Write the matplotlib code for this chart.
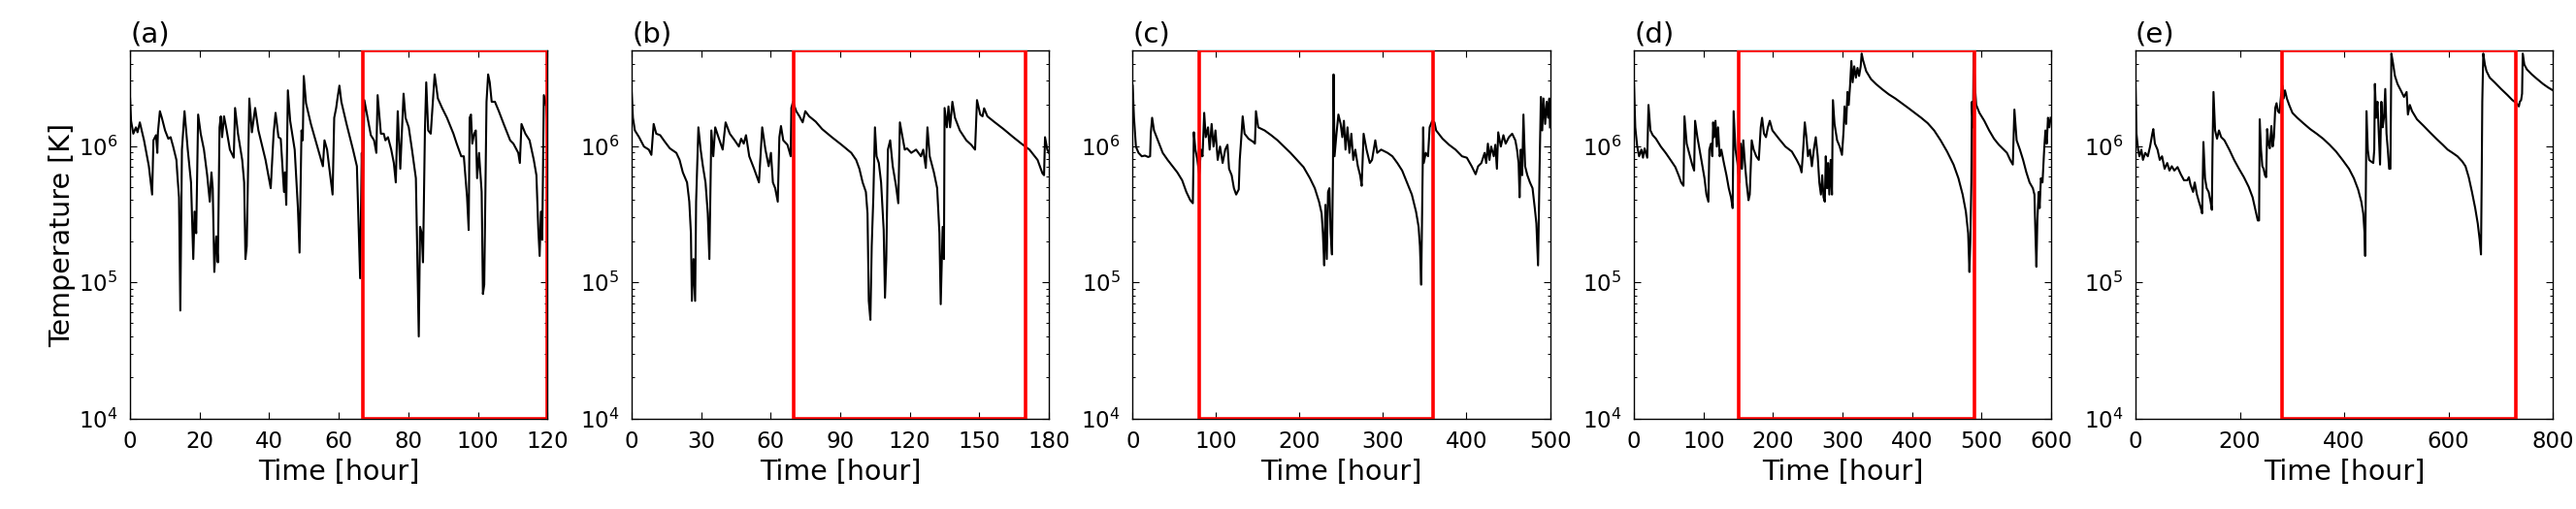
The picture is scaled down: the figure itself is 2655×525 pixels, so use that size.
"""Temperature time series of five runs, with the selected window boxed in red."""
import matplotlib
matplotlib.use("Agg")
import matplotlib.pyplot as plt
from matplotlib.patches import Rectangle
from matplotlib.ticker import LogLocator, NullFormatter

# (a)
t_a = [0.0, 0.28, 0.93, 1.68, 2.14, 2.80, 4.01, 5.40, 6.34, 6.71, 7.45, 7.83, 8.01, 8.57, 9.13, 10.06,
       10.99, 11.65, 12.39, 13.32, 13.60, 14.07, 14.44, 14.91, 15.65, 16.58, 17.52, 18.17, 18.54, 19.01,
       19.57, 20.31, 21.24, 22.17, 22.92, 23.39, 23.76, 24.22, 24.78, 25.25, 25.72, 26.09, 26.46, 27.02,
       27.77, 28.70, 29.81, 30.19, 31.03, 32.24, 32.80, 33.17, 33.54, 34.29, 35.03, 35.96, 36.90, 38.95,
       40.44, 41.27, 41.83, 42.67, 43.32, 44.26, 44.54, 44.91, 45.37, 46.03, 47.33, 48.26, 48.73, 49.29,
       49.66, 49.94, 50.59, 51.99, 53.85, 55.44, 55.90, 56.65, 57.11, 58.23, 58.70, 59.26, 59.63, 60.19,
       60.75, 62.24, 64.10, 65.22, 66.15, 66.62, 66.90, 67.36, 68.29, 69.23, 70.16, 70.81, 71.18, 72.12,
       72.95, 73.42, 74.16, 75.09, 75.84, 76.40, 76.96, 77.70, 78.64, 79.20, 80.13, 81.06, 82.18, 83.01,
       83.39, 83.85, 84.23, 84.78, 85.16, 85.72, 86.46, 87.58, 88.51, 89.72, 91.12, 92.98, 93.92, 95.22,
       95.97, 96.90, 97.36, 97.64, 98.02, 98.39, 98.95, 99.41, 99.79, 100.34, 101.09, 101.46, 101.84,
       102.49, 102.96, 103.42, 103.98, 104.91, 106.03, 107.43, 109.29, 110.22, 111.62, 112.08, 112.55,
       113.67, 114.88, 116.09, 116.84, 117.39, 117.77, 118.14, 118.51, 118.98, 119.63, 120.0]
T_a = [2.23e6, 1.53e6, 1.23e6, 1.37e6, 1.26e6, 1.49e6, 1.10e6, 7.1e5, 4.4e5, 1.10e6, 1.20e6, 8.9e5,
       1.26e6, 1.80e6, 1.61e6, 1.30e6, 1.13e6, 1.16e6, 9.9e5, 7.9e5, 6.1e5, 4.2e5, 6.2e4, 9.4e5, 1.80e6,
       9.4e5, 5.4e5, 1.48e5, 3.3e5, 2.29e5, 1.70e6, 1.23e6, 9.4e5, 6.1e5, 3.9e5, 6.4e5, 4.9e5, 1.19e5,
       2.17e5, 1.40e5, 1.37e6, 1.65e6, 1.16e6, 1.65e6, 1.30e6, 9.4e5, 8.2e5, 1.90e6, 1.23e6, 7.9e5, 5.4e5,
       1.48e5, 1.84e5, 2.23e6, 1.26e6, 1.90e6, 1.30e6, 7.9e5, 4.9e5, 1.23e6, 1.75e6, 1.16e6, 1.13e6,
       4.6e5, 6.4e5, 3.7e5, 2.56e6, 1.53e6, 9.4e5, 3.5e5, 1.65e5, 1.30e6, 1.10e6, 3.26e6, 2.06e6, 1.45e6,
       9.9e5, 7.1e5, 1.10e6, 9.4e5, 7.5e5, 4.4e5, 1.61e6, 1.90e6, 2.23e6, 2.77e6, 2.11e6, 1.45e6, 9.4e5,
       7.1e5, 1.07e5, 8.9e5, 4.2e5, 2.17e6, 1.61e6, 1.20e6, 1.10e6, 8.9e5, 2.36e6, 1.23e6, 1.23e6, 1.10e6,
       1.16e6, 9.4e5, 7.5e5, 5.4e5, 1.80e6, 6.8e5, 2.42e6, 1.61e6, 1.37e6, 9.4e5, 5.8e5, 4.0e4, 2.55e5,
       2.29e5, 1.40e5, 1.30e6, 2.93e6, 1.30e6, 1.23e6, 3.35e6, 2.23e6, 1.90e6, 1.61e6, 1.23e6, 1.04e6,
       8.4e5, 8.4e5, 4.2e5, 2.42e5, 1.61e6, 1.70e6, 1.04e6, 1.23e6, 1.30e6, 5.8e5, 8.9e5, 4.6e5, 8.2e4,
       9.6e4, 2.11e6, 3.35e6, 2.93e6, 2.11e6, 2.11e6, 1.80e6, 1.45e6, 1.10e6, 1.04e6, 8.9e5, 7.5e5,
       1.45e6, 1.23e6, 1.10e6, 7.9e5, 6.1e5, 2.42e5, 1.56e5, 3.3e5, 2.05e5, 2.36e6, 2.00e6, 1.53e6]

# (b)
t_b = [0.0, 0.56, 1.40, 3.21, 5.31, 7.41, 8.52, 9.50, 10.62, 12.30, 14.39, 16.49, 19.28, 20.68, 22.08,
       23.90, 24.87, 25.57, 25.99, 26.69, 27.39, 27.81, 28.79, 29.77, 30.74, 31.86, 32.84, 33.54, 34.38,
       35.22, 36.05, 37.45, 39.27, 40.53, 42.34, 44.44, 46.26, 47.23, 48.35, 49.33, 50.73, 52.82, 54.92,
       56.32, 57.71, 59.11, 60.09, 60.93, 61.91, 63.03, 63.72, 64.42, 65.40, 67.22, 68.61, 68.89, 69.59,
       70.99, 72.39, 73.78, 74.90, 76.58, 79.37, 82.17, 86.36, 90.55, 94.75, 96.84, 98.24, 99.64, 101.04,
       101.74, 102.29, 102.99, 103.55, 104.25, 104.95, 105.65, 106.62, 107.60, 108.72, 109.28, 109.84,
       110.54, 111.52, 112.63, 114.03, 115.01, 115.71, 116.83, 117.81, 118.78, 120.60, 122.70, 124.79,
       125.77, 126.89, 127.59, 128.57, 130.38, 131.78, 132.76, 133.32, 134.15, 134.71, 134.99, 135.97,
       136.67, 137.37, 138.35, 139.47, 141.56, 144.36, 146.46, 148.13, 148.97, 150.37, 151.35, 152.04,
       153.44, 156.24, 160.43, 164.62, 168.11, 171.60, 175.10, 177.19, 177.89, 178.31, 179.29, 180.0]
T_b = [2.49e6, 1.61e6, 1.30e6, 1.16e6, 9.9e5, 9.4e5, 8.6e5, 1.45e6, 1.23e6, 1.20e6, 1.07e6, 9.6e5,
       8.9e5, 7.9e5, 6.4e5, 5.4e5, 3.9e5, 2.29e5, 7.3e4, 1.48e5, 7.3e4, 3.9e5, 1.37e6, 9.4e5, 7.1e5,
       5.4e5, 3.2e5, 1.48e5, 1.30e6, 8.4e5, 1.37e6, 1.16e6, 9.4e5, 1.49e6, 1.23e6, 1.10e6, 9.9e5, 1.13e6,
       1.04e6, 1.20e6, 8.4e5, 6.8e5, 5.4e5, 1.37e6, 9.4e5, 7.1e5, 8.9e5, 5.4e5, 4.9e5, 3.9e5, 1.16e6,
       1.40e6, 1.10e6, 1.02e6, 8.4e5, 1.90e6, 2.11e6, 1.80e6, 1.65e6, 1.49e6, 1.80e6, 1.65e6, 1.51e6,
       1.33e6, 1.16e6, 1.02e6, 8.9e5, 7.9e5, 6.8e5, 5.4e5, 4.6e5, 3.2e5, 7.3e4, 5.3e4, 1.84e5, 4.2e5,
       1.37e6, 8.4e5, 7.5e5, 5.4e5, 2.42e5, 7.7e4, 1.48e5, 9.4e5, 1.10e6, 7.1e5, 5.1e5, 3.8e5, 1.49e6,
       1.16e6, 9.4e5, 9.6e5, 8.9e5, 9.4e5, 8.4e5, 9.4e5, 6.9e5, 1.37e6, 8.4e5, 6.4e5, 4.9e5, 2.29e5,
       6.9e4, 2.55e5, 1.48e5, 1.90e6, 1.37e6, 1.95e6, 1.37e6, 2.11e6, 1.61e6, 1.30e6, 1.10e6, 1.02e6,
       9.4e5, 2.17e6, 1.70e6, 1.65e6, 1.89e6, 1.65e6, 1.51e6, 1.33e6, 1.16e6, 1.04e6, 9.4e5, 7.9e5,
       6.3e5, 6.1e5, 1.16e6, 9.4e5, 8.9e5]

# (c)
t_c = [0.0, 1.6, 3.9, 7.0, 10.9, 14.7, 18.6, 20.9, 21.7, 23.3, 25.6, 30.2, 36.0, 41.9, 47.7, 53.5, 59.3,
       64.3, 69.0, 72.1, 73.3, 75.2, 77.5, 79.8, 81.8, 83.7, 85.7, 87.6, 90.3, 92.2, 94.6, 96.9, 99.2,
       101.9, 104.7, 107.8, 110.9, 113.6, 115.5, 118.6, 121.3, 124.0, 127.1, 128.3, 130.2, 131.8, 134.1,
       138.8, 144.6, 146.5, 147.7, 150.4, 158.1, 165.9, 173.6, 181.4, 189.1, 196.9, 204.7, 212.4, 218.2,
       223.3, 226.4, 227.9, 229.5, 231.0, 232.6, 234.1, 235.7, 237.2, 238.8, 240.0, 240.7, 241.9, 244.2,
       246.5, 249.2, 251.2, 253.1, 255.0, 257.4, 259.7, 262.0, 264.3, 266.7, 269.8, 272.5, 274.4, 276.7,
       280.2, 284.1, 286.8, 290.7, 293.0, 297.7, 305.4, 311.2, 317.1, 322.9, 328.7, 334.5, 339.5, 342.6,
       344.2, 345.7, 346.9, 348.1, 348.8, 351.2, 353.9, 355.8, 358.9, 361.6, 363.6, 371.3, 379.1, 386.8,
       394.6, 400.4, 406.2, 410.9, 413.9, 417.8, 421.7, 423.6, 425.6, 427.5, 429.5, 432.6, 434.5, 436.4,
       438.0, 441.1, 444.2, 446.9, 450.8, 454.7, 458.5, 460.5, 462.4, 463.6, 465.1, 466.7, 468.2, 470.2,
       472.9, 476.0, 479.1, 481.8, 483.7, 485.7, 487.6, 489.1, 490.7, 492.2, 494.2, 496.1, 497.7, 499.2,
       500.0]
T_c = [2.77e6, 1.61e6, 9.9e5, 8.9e5, 8.4e5, 8.5e5, 8.3e5, 8.4e5, 1.23e6, 1.61e6, 1.30e6, 1.10e6, 8.9e5,
       7.9e5, 7.1e5, 6.4e5, 5.6e5, 4.6e5, 4.0e5, 3.8e5, 1.26e6, 9.4e5, 7.9e5, 6.2e5, 9.4e5, 8.4e5, 1.75e6,
       1.16e6, 1.37e6, 9.4e5, 1.45e6, 9.9e5, 1.30e6, 7.9e5, 9.9e5, 7.5e5, 9.4e5, 1.02e6, 6.8e5, 6.1e5,
       4.9e5, 4.4e5, 4.8e5, 7.9e5, 1.16e6, 1.65e6, 1.23e6, 1.13e6, 1.07e6, 1.04e6, 1.80e6, 1.37e6, 1.30e6,
       1.20e6, 1.10e6, 9.9e5, 8.9e5, 7.9e5, 7.0e5, 5.8e5, 4.9e5, 3.9e5, 3.2e5, 2.29e5, 1.33e5, 3.7e5,
       1.48e5, 4.6e5, 4.9e5, 2.29e5, 1.60e5, 7.1e5, 3.35e6, 8.4e5, 1.23e6, 1.70e6, 1.45e6, 1.16e6, 1.53e6,
       9.4e5, 1.37e6, 8.9e5, 1.23e6, 7.9e5, 9.4e5, 7.1e5, 6.1e5, 5.1e5, 1.23e6, 9.4e5, 7.5e5, 7.9e5,
       1.10e6, 8.9e5, 9.4e5, 8.9e5, 8.4e5, 7.5e5, 6.6e5, 5.4e5, 4.4e5, 3.3e5, 2.55e5, 1.84e5, 9.6e4,
       3.9e5, 1.37e6, 7.5e5, 8.9e5, 8.4e5, 1.37e6, 1.53e6, 1.49e6, 1.30e6, 1.13e6, 1.02e6, 9.4e5, 8.4e5,
       8.2e5, 7.1e5, 6.2e5, 7.1e5, 7.5e5, 8.9e5, 7.5e5, 1.04e6, 7.9e5, 9.9e5, 8.4e5, 1.02e6, 6.8e5,
       1.26e6, 9.9e5, 1.20e6, 1.04e6, 1.16e6, 1.23e6, 1.10e6, 9.4e5, 7.5e5, 4.2e5, 9.4e5, 6.1e5, 1.70e6,
       7.1e5, 6.1e5, 5.4e5, 4.9e5, 3.5e5, 2.7e5, 1.33e5, 7.1e5, 2.29e6, 1.30e6, 2.23e6, 1.45e6, 2.11e6,
       1.61e6, 2.23e6, 1.37e6]

# (d)
t_d = [0.0, 1.9, 4.7, 7.4, 10.7, 13.0, 15.3, 19.1, 20.9, 23.7, 27.0, 31.6, 38.6, 45.6, 52.6, 59.5, 64.2,
       67.9, 71.2, 72.6, 75.8, 80.5, 83.7, 86.5, 87.9, 91.2, 94.4, 97.7, 101.4, 104.2, 107.0, 108.4, 110.7,
       112.6, 113.9, 115.3, 117.2, 119.1, 120.9, 123.3, 125.6, 129.3, 133.0, 136.3, 139.5, 141.9, 143.3,
       146.0, 148.8, 151.6, 153.5, 155.3, 157.2, 159.5, 161.9, 164.7, 166.5, 169.3, 172.1, 175.8, 179.5,
       182.3, 184.2, 187.0, 189.8, 192.6, 195.3, 199.1, 208.4, 217.7, 227.0, 234.0, 238.6, 241.0, 243.3,
       245.6, 248.0, 250.2, 253.0, 255.8, 258.6, 261.4, 264.2, 266.5, 268.8, 270.7, 272.6, 274.4, 275.8,
       277.7, 279.1, 280.9, 282.8, 284.7, 286.0, 288.4, 292.1, 295.8, 299.1, 301.4, 302.8, 305.1, 307.0,
       308.8, 310.7, 312.6, 314.4, 316.7, 319.1, 321.4, 323.7, 326.0, 327.4, 329.3, 333.9, 340.9, 347.9,
       357.2, 366.5, 375.8, 385.1, 394.4, 403.7, 413.0, 422.3, 431.6, 440.9, 450.2, 459.5, 466.5, 472.6,
       477.2, 480.5, 482.3, 483.7, 485.1, 486.0, 487.4, 488.4, 490.2, 492.1, 496.7, 503.7, 510.7, 517.7,
       524.7, 531.6, 536.3, 540.9, 544.7, 547.0, 550.2, 554.9, 559.5, 564.2, 568.8, 573.5, 575.8, 577.2,
       578.6, 580.0, 581.9, 583.3, 585.1, 587.4, 589.8, 591.6, 593.5, 595.3, 597.2, 599.1]
T_d = [2.9e6, 1.37e6, 9.9e5, 8.4e5, 9.4e5, 8.2e5, 9.6e5, 8.2e5, 2.0e6, 1.30e6, 1.20e6, 1.13e6, 9.9e5,
       8.9e5, 7.9e5, 7.0e5, 6.1e5, 5.4e5, 5.1e5, 1.65e6, 1.04e6, 8.4e5, 7.3e5, 6.6e5, 1.53e6, 1.16e6,
       9.4e5, 7.5e5, 5.8e5, 4.4e5, 3.9e5, 9.4e5, 1.04e6, 8.4e5, 1.49e6, 1.16e6, 1.53e6, 9.9e5, 1.37e6,
       8.4e5, 9.4e5, 7.5e5, 6.1e5, 4.9e5, 4.2e5, 3.5e5, 1.80e6, 9.4e5, 7.5e5, 5.4e5, 1.04e6, 6.8e5,
       1.10e6, 7.5e5, 5.4e5, 4.0e5, 4.4e5, 1.10e6, 9.4e5, 8.4e5, 7.9e5, 1.37e6, 1.61e6, 1.23e6, 1.16e6,
       1.37e6, 1.53e6, 1.30e6, 1.13e6, 9.9e5, 9.1e5, 7.9e5, 7.1e5, 6.4e5, 9.4e5, 1.49e6, 1.16e6, 8.4e5,
       9.4e5, 7.1e5, 9.4e5, 1.16e6, 8.4e5, 5.4e5, 4.4e5, 6.1e5, 4.2e5, 3.9e5, 8.4e5, 4.9e5, 7.5e5, 4.4e5,
       7.9e5, 4.4e5, 2.17e6, 1.45e6, 1.10e6, 9.9e5, 8.6e5, 1.30e6, 1.95e6, 1.45e6, 2.49e6, 2.0e6, 2.77e6,
       4.2e6, 2.93e6, 3.84e6, 3.17e6, 3.74e6, 3.26e6, 3.84e6, 4.76e6, 4.27e6, 3.54e6, 3.09e6, 2.85e6,
       2.60e6, 2.39e6, 2.23e6, 2.06e6, 1.90e6, 1.75e6, 1.61e6, 1.47e6, 1.30e6, 1.10e6, 9.1e5, 7.3e5,
       5.8e5, 4.4e5, 3.3e5, 2.29e5, 1.19e5, 2.05e5, 5.4e5, 2.11e6, 1.37e6, 4.76e6, 2.77e6, 2.0e6, 1.75e6,
       1.53e6, 1.30e6, 1.13e6, 1.02e6, 9.4e5, 8.9e5, 7.9e5, 7.3e5, 1.85e6, 1.10e6, 9.4e5, 7.9e5, 6.4e5,
       5.4e5, 4.9e5, 4.4e5, 2.29e5, 1.30e5, 2.84e5, 4.6e5, 3.5e5, 5.8e5, 5.4e5, 9.4e5, 1.30e6, 1.04e6,
       1.61e6, 1.37e6, 1.61e6]

# (e)
t_e = [0.0, 1.9, 5.0, 7.4, 11.2, 14.3, 18.6, 23.6, 27.9, 32.2, 34.1, 37.2, 42.2, 46.5, 50.9, 55.8, 60.8,
       65.1, 69.5, 74.4, 80.6, 86.8, 93.0, 99.2, 102.3, 105.4, 110.4, 113.5, 117.8, 121.6, 125.3, 127.8,
       130.2, 133.3, 136.4, 140.2, 143.9, 146.4, 147.6, 149.5, 152.6, 156.3, 160.0, 164.3, 170.5, 179.8,
       189.1, 198.4, 207.8, 217.1, 224.5, 230.7, 234.4, 236.9, 238.1, 240.6, 243.1, 245.6, 248.1, 250.5,
       252.4, 254.9, 257.4, 260.5, 262.9, 265.4, 267.9, 270.4, 272.9, 276.0, 279.1, 281.6, 284.0, 286.5,
       290.2, 294.6, 300.8, 310.1, 322.5, 334.9, 347.3, 359.7, 372.1, 384.5, 396.9, 409.3, 418.6, 426.7,
       432.9, 436.6, 439.1, 440.3, 441.6, 442.8, 445.3, 447.8, 451.5, 455.8, 457.7, 458.9, 461.4, 463.9,
       466.4, 468.8, 471.3, 473.8, 476.3, 478.8, 481.2, 483.7, 486.2, 488.7, 490.5, 493.6, 497.4, 502.3,
       508.5, 514.7, 519.7, 522.2, 525.9, 530.2, 539.5, 551.9, 564.3, 576.7, 589.1, 598.4, 607.8, 617.1,
       626.4, 632.6, 638.8, 645.0, 651.2, 656.1, 659.8, 662.3, 663.6, 664.8, 666.7, 669.8, 672.9, 679.1,
       688.4, 700.8, 713.2, 722.5, 730.5, 734.9, 736.7, 739.2, 741.1, 742.3, 745.4, 750.4, 759.7, 769.0,
       781.4, 790.7, 800.0]
T_e = [2.77e6, 1.23e6, 9.4e5, 8.4e5, 9.4e5, 7.9e5, 8.9e5, 8.4e5, 9.9e5, 1.23e6, 1.33e6, 1.04e6, 9.4e5,
       7.9e5, 8.4e5, 6.8e5, 7.5e5, 6.6e5, 7.1e5, 6.6e5, 7.0e5, 6.2e5, 5.6e5, 5.6e5, 5.9e5, 5.2e5, 4.6e5,
       5.4e5, 4.4e5, 3.9e5, 3.5e5, 3.2e5, 1.07e6, 5.8e5, 4.9e5, 4.6e5, 3.9e5, 3.4e5, 9.4e5, 2.49e6, 1.30e6,
       1.13e6, 1.30e6, 1.16e6, 1.10e6, 9.4e5, 7.9e5, 6.8e5, 5.9e5, 5.0e5, 4.2e5, 3.3e5, 2.84e5, 2.84e5,
       1.57e6, 9.4e5, 7.1e5, 6.8e5, 6.1e5, 5.9e5, 1.33e6, 1.04e6, 9.6e5, 1.40e6, 9.9e5, 1.16e6, 1.90e6,
       2.06e6, 1.80e6, 1.75e6, 2.36e6, 2.77e6, 2.23e6, 2.56e6, 2.23e6, 2.0e6, 1.75e6, 1.61e6, 1.46e6,
       1.33e6, 1.23e6, 1.13e6, 1.02e6, 9.1e5, 7.9e5, 6.8e5, 5.8e5, 4.8e5, 3.9e5, 3.2e5, 2.29e5, 1.56e5,
       4.9e5, 1.80e6, 9.4e5, 7.9e5, 7.7e5, 7.5e5, 9.4e5, 2.85e6, 1.61e6, 2.11e6, 1.23e6, 7.3e5, 2.11e6,
       1.37e6, 1.61e6, 2.62e6, 1.23e6, 9.4e5, 6.8e5, 6.8e5, 4.76e6, 4.06e6, 3.26e6, 2.85e6, 2.56e6,
       2.29e6, 2.49e6, 1.70e6, 2.0e6, 1.80e6, 1.57e6, 1.41e6, 1.26e6, 1.13e6, 1.02e6, 9.4e5, 8.9e5, 8.4e5,
       7.7e5, 7.1e5, 5.9e5, 4.6e5, 3.5e5, 2.7e5, 2.05e5, 1.60e5, 5.4e5, 2.11e6, 4.76e6, 3.95e6, 3.54e6,
       3.17e6, 2.93e6, 2.62e6, 2.36e6, 2.17e6, 2.06e6, 1.95e6, 2.11e6, 2.17e6, 2.42e6, 4.76e6, 3.95e6,
       3.64e6, 3.35e6, 3.12e6, 2.85e6, 2.69e6, 2.56e6]

panel_labels = ["(a)", "(b)", "(c)", "(d)", "(e)"]
times = [t_a, t_b, t_c, t_d, t_e]
temps = [T_a, T_b, T_c, T_d, T_e]
t_max = [120, 180, 500, 600, 800]
t_step = [20, 30, 100, 100, 200]
# selected window [start, end] in hours
windows = [(67, 120), (70, 170), (80, 360), (150, 490), (280, 730)]

Y_MIN, Y_MAX = 1e4, 5e6

fig = plt.figure(figsize=(26.55, 5.25), dpi=100)
lefts = [0.0505, 0.2452, 0.4397, 0.6343, 0.8290]

for i in range(5):
    ax = fig.add_axes([lefts[i], 0.1777, 0.1620, 0.7227])
    ax.plot(times[i], temps[i], color="black", linewidth=1.5, zorder=2)

    # red box around the selected window
    w0, w1 = windows[i]
    ax.add_patch(Rectangle((w0, Y_MIN), w1 - w0, Y_MAX - Y_MIN, fill=False,
                           edgecolor="red", linewidth=2.6, zorder=3))

    ax.set_yscale("log")
    ax.set_xlim(0, t_max[i])
    ax.set_ylim(Y_MIN, Y_MAX)
    ax.set_xticks(list(range(0, t_max[i] + 1, t_step[i])))
    ax.yaxis.set_major_locator(LogLocator(base=10, numticks=10))
    ax.yaxis.set_minor_locator(LogLocator(base=10, subs=range(2, 10), numticks=20))
    ax.yaxis.set_minor_formatter(NullFormatter())

    ax.tick_params(which="both", direction="in", top=True, right=True, labelsize=16.5)
    ax.tick_params(which="major", length=5, width=0.8, pad=9)
    ax.tick_params(which="minor", length=2.5, width=0.7)
    for sp in ax.spines.values():
        sp.set_linewidth(1.0)

    ax.set_xlabel("Time [hour]", fontsize=20.5, labelpad=4)
    if i == 0:
        ax.set_ylabel("Temperature [K]", fontsize=20.5, labelpad=2)
    ax.set_title(panel_labels[i], loc="left", fontsize=21, pad=6)

fig.savefig("out.png", dpi=100)
